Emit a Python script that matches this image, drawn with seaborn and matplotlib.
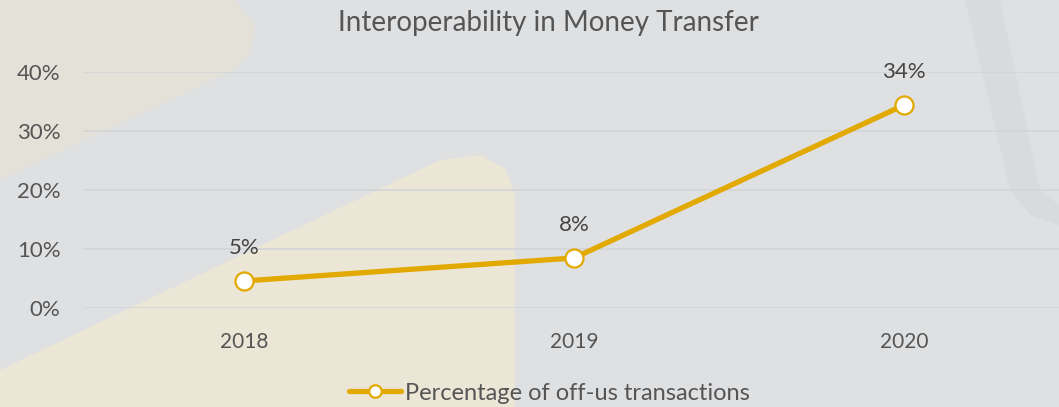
import pandas as pd
import matplotlib.pyplot as plt
import seaborn as sns
from matplotlib.patches import Polygon

# data
years = ["2018", "2019", "2020"]
off_us_pct = [4.6, 8.5, 34.4]
point_labels = ["5%", "8%", "34%"]
y_ticks = [0, 10, 20, 30, 40]
series_name = "Percentage of off-us transactions"

GOLD = "#e2a900"
TEXT = "#555555"


def make_chart():
    sns.set_theme(style="white")
    plt.rcParams["font.family"] = ["Lato", "DejaVu Sans"]

    df = pd.DataFrame({"Year": years, "Share": off_us_pct})

    fig = plt.figure(figsize=(10.59, 4.07), dpi=100)
    fig.patch.set_facecolor("#dfe0e2")

    # soft background shapes (the photo behind the original chart), on their own axes
    bg = fig.add_axes([0, 0, 1, 1], zorder=-1)
    bg.set_xlim(0, 1059)
    bg.set_ylim(407, 0)
    bg.axis("off")
    bg.add_patch(Polygon([(0, 0), (235, 0), (255, 25), (250, 55), (230, 72), (0, 180)],
                         facecolor="#e4e1d9", edgecolor="none"))
    bg.add_patch(Polygon([(0, 370), (440, 160), (480, 155), (505, 168), (515, 195),
                          (515, 407), (0, 407)], facecolor="#ece6d7", edgecolor="none"))
    bg.add_patch(Polygon([(965, 0), (1000, 0), (1040, 190), (1059, 205), (1059, 225),
                          (1030, 215), (1010, 190)], facecolor="#d9dadd", edgecolor="none"))

    ax = fig.add_axes([0.078, 0.243, 0.922, 0.58])
    ax.set_facecolor("none")

    sns.lineplot(data=df, x="Year", y="Share", ax=ax, color=GOLD, linewidth=3.8,
                 marker="o", markersize=13, markerfacecolor="white",
                 markeredgecolor=GOLD, markeredgewidth=1.6, label=series_name,
                 clip_on=False, zorder=5)

    for i, (v, lab) in enumerate(zip(off_us_pct, point_labels)):
        ax.annotate(lab, (i, v), xytext=(0, 24), textcoords="offset points",
                    ha="center", va="center", fontsize=16, color="#444444")

    ax.set_xlim(-0.49, 2.47)
    ax.set_ylim(0, 40)
    ax.set_yticks(y_ticks)
    ax.set_yticklabels([f"{t}%" for t in y_ticks])
    ax.yaxis.grid(True, color="#d3d4d7", linewidth=1.2)
    ax.set_axisbelow(True)
    ax.tick_params(axis="y", length=0, pad=16, labelsize=16, labelcolor=TEXT)
    ax.tick_params(axis="x", length=0, pad=17, labelsize=15, labelcolor=TEXT)
    for s in ax.spines.values():
        s.set_visible(False)
    ax.set_xlabel("")
    ax.set_ylabel("")

    fig.suptitle("Interoperability in Money Transfer", x=0.518, y=0.975, va="top",
                 fontsize=20, color=TEXT)

    leg = ax.legend(loc="center", bbox_to_anchor=(0.478, -0.36), frameon=False,
                    fontsize=17, handlelength=2.2, handletextpad=0.15)
    for t in leg.get_texts():
        t.set_color(TEXT)
    for h in leg.legend_handles:
        h.set_markersize(9)

    fig.savefig("out.png", dpi=100, facecolor=fig.get_facecolor())


if __name__ == "__main__":
    make_chart()
